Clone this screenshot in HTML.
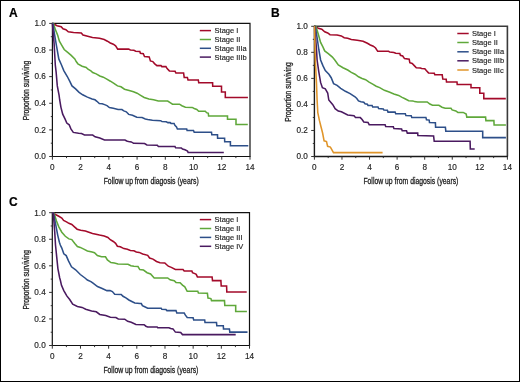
<!DOCTYPE html>
<html><head><meta charset="utf-8"><style>
html,body{margin:0;padding:0;background:#fff;}
svg{display:block;will-change:transform;}
text{font-family:"Liberation Sans",sans-serif;fill:#1e1e1e;}
.tk{font-size:8.2px;stroke:#1e1e1e;stroke-width:0.15px;}
.al{font-size:9.2px;stroke:#1e1e1e;stroke-width:0.3px;}
.lg{font-size:7.5px;stroke:#1e1e1e;stroke-width:0.15px;}
.pl{font-size:12px;font-weight:bold;fill:#000;stroke:#000;stroke-width:0.2px;}
</style></head><body>
<svg width="520" height="382" viewBox="0 0 520 382">
<rect x="0.5" y="0.5" width="519" height="381" fill="#fff" stroke="#000" stroke-width="1"/>
<text x="9.1" y="16.8" class="pl">A</text>
<text x="270.9" y="17.1" class="pl">B</text>
<text x="9.1" y="205.9" class="pl">C</text>
<path d="M52.40,23.40H250.00V156.50" fill="none" stroke="#111" stroke-width="1.2"/>
<path d="M52.40,22.80V156.50H250.60" fill="none" stroke="#111" stroke-width="1.2"/>
<path d="M52.40,156.50v3.2 M66.51,156.50v1.6 M80.63,156.50v3.2 M94.74,156.50v1.6 M108.86,156.50v3.2 M122.97,156.50v1.6 M137.09,156.50v3.2 M151.20,156.50v1.6 M165.31,156.50v3.2 M179.43,156.50v1.6 M193.54,156.50v3.2 M207.66,156.50v1.6 M221.77,156.50v3.2 M235.89,156.50v1.6 M250.00,156.50v3.2 M52.40,156.50h-3.2 M52.40,143.19h-1.6 M52.40,129.88h-3.2 M52.40,116.57h-1.6 M52.40,103.26h-3.2 M52.40,89.95h-1.6 M52.40,76.64h-3.2 M52.40,63.33h-1.6 M52.40,50.02h-3.2 M52.40,36.71h-1.6 M52.40,23.40h-3.2" stroke="#333" stroke-width="1.0" fill="none"/>
<text x="52.40" y="170.10" text-anchor="middle" class="tk">0</text>
<text x="80.63" y="170.10" text-anchor="middle" class="tk">2</text>
<text x="108.86" y="170.10" text-anchor="middle" class="tk">4</text>
<text x="137.09" y="170.10" text-anchor="middle" class="tk">6</text>
<text x="165.31" y="170.10" text-anchor="middle" class="tk">8</text>
<text x="193.54" y="170.10" text-anchor="middle" class="tk">10</text>
<text x="221.77" y="170.10" text-anchor="middle" class="tk">12</text>
<text x="250.00" y="170.10" text-anchor="middle" class="tk">14</text>
<text x="45.80" y="159.35" text-anchor="end" class="tk">0.0</text>
<text x="45.80" y="132.73" text-anchor="end" class="tk">0.2</text>
<text x="45.80" y="106.11" text-anchor="end" class="tk">0.4</text>
<text x="45.80" y="79.49" text-anchor="end" class="tk">0.6</text>
<text x="45.80" y="52.87" text-anchor="end" class="tk">0.8</text>
<text x="45.80" y="26.25" text-anchor="end" class="tk">1.0</text>
<text x="151.20" y="183.80" text-anchor="middle" class="al" textLength="95" lengthAdjust="spacingAndGlyphs">Follow up from diagosis (years)</text>
<text transform="translate(29.20,90.55) rotate(-90)" x="0" y="0" text-anchor="middle" class="al" textLength="59.6" lengthAdjust="spacingAndGlyphs">Proportion surviving</text>
<path d="M199.8,30.6H211.0" stroke="#a30a2a" stroke-width="1.5"/>
<text x="214.6" y="33.20" class="lg">Stage I</text>
<path d="M199.8,39.5H211.0" stroke="#5fa83a" stroke-width="1.5"/>
<text x="214.6" y="42.10" class="lg">Stage II</text>
<path d="M199.8,48.3H211.0" stroke="#2d4f89" stroke-width="1.5"/>
<text x="214.6" y="50.90" class="lg">Stage IIIa</text>
<path d="M199.8,57.1H211.0" stroke="#4a1a60" stroke-width="1.5"/>
<text x="214.6" y="59.70" class="lg">Stage IIIb</text>
<path d="M52.4,23.5 L52.9,23.5 L57.1,25.7 L61.2,26.8 L63.0,28.8 L65.9,29.7 L68.3,31.8 L73.6,32.4 L81.3,33.0 L83.0,35.1 L87.7,36.3 L92.5,37.5 L99.5,38.3 L104.2,39.5 L107.4,41.2 L110.3,43.0 L113.3,44.2 L115.6,45.9 L117.7,49.1 L128.6,49.1 L130.4,50.0 L133.9,50.3 L135.7,51.2 L139.8,51.5 L140.4,53.3 L143.3,53.8 L144.5,56.5 L149.2,56.9 L150.4,60.9 L152.8,61.6 L154.5,63.6 L156.9,65.6 L161.0,65.6 L161.8,66.6 L165.9,66.6 L167.1,68.6 L169.4,70.9 L175.1,71.3 L175.9,73.0 L183.6,73.0 L184.2,77.4 L187.4,77.6 L188.0,80.0 L198.3,80.0 L198.7,82.7 L212.6,82.7 L212.7,86.3 L221.5,86.3 L221.5,92.0 L225.3,92.0 L225.3,97.5 L247.9,97.5" fill="none" stroke="#a30a2a" stroke-width="1.55" stroke-linejoin="miter" stroke-linecap="butt"/>
<path d="M52.4,23.5 L53.5,23.5 L55.3,29.4 L57.7,35.3 L59.4,41.2 L61.8,45.4 L64.2,49.5 L67.7,52.4 L71.2,55.4 L74.8,58.9 L76.2,61.5 L77.9,63.8 L82.1,66.2 L86.2,67.4 L88.0,69.2 L90.9,70.9 L92.7,72.5 L96.2,73.9 L99.8,76.0 L103.3,77.2 L106.8,79.2 L110.4,81.2 L113.9,83.3 L117.5,85.9 L121.0,86.8 L124.5,89.2 L129.2,90.6 L133.5,91.8 L137.1,93.2 L140.6,95.3 L144.2,97.5 L148.9,99.1 L153.6,99.8 L158.3,101.0 L167.7,101.0 L170.1,102.6 L172.5,104.2 L179.5,104.2 L181.9,105.7 L185.4,107.2 L192.2,107.4 L194.2,108.5 L196.8,109.4 L198.7,111.2 L205.3,111.2 L206.6,112.7 L208.3,113.3 L208.6,116.0 L227.5,116.0 L227.5,119.2 L236.0,119.2 L236.0,124.5 L247.8,124.5" fill="none" stroke="#5fa83a" stroke-width="1.55" stroke-linejoin="miter" stroke-linecap="butt"/>
<path d="M52.4,23.5 L52.9,23.5 L54.7,35.3 L56.5,45.9 L58.8,58.9 L61.4,64.7 L63.8,70.6 L67.3,76.5 L69.7,81.2 L72.0,85.9 L75.6,88.9 L79.1,92.4 L82.7,94.8 L87.4,97.1 L92.1,98.9 L95.0,99.8 L96.9,101.3 L99.3,103.5 L102.2,103.7 L104.6,104.6 L107.0,105.6 L109.4,107.5 L113.3,108.3 L118.1,109.4 L121.9,109.6 L123.8,110.9 L126.3,111.8 L128.7,114.4 L132.5,115.2 L136.8,117.3 L142.1,117.6 L145.3,118.9 L147.7,119.5 L152.4,120.3 L160.7,120.7 L162.0,121.6 L166.3,121.8 L167.9,122.6 L170.2,122.6 L171.0,123.4 L174.1,123.5 L174.9,125.3 L176.5,126.9 L177.4,129.0 L186.7,129.0 L187.1,130.4 L193.5,130.4 L194.2,132.2 L211.5,132.2 L211.8,134.8 L217.5,134.8 L217.6,138.3 L224.6,138.3 L224.7,141.8 L230.4,141.8 L230.4,145.7 L248.3,145.7" fill="none" stroke="#2d4f89" stroke-width="1.55" stroke-linejoin="miter" stroke-linecap="butt"/>
<path d="M52.4,23.5 L54.1,43.6 L55.3,65.0 L56.1,71.8 L57.3,85.9 L59.1,95.4 L59.7,100.0 L60.9,107.1 L62.7,114.2 L65.0,118.9 L66.8,123.0 L69.2,124.8 L70.9,128.9 L73.3,132.4 L78.6,133.3 L81.5,133.6 L84.5,135.0 L92.7,135.1 L95.1,136.8 L99.8,138.0 L104.5,139.9 L125.0,140.0 L126.7,141.0 L128.5,141.5 L131.3,141.9 L133.6,143.3 L144.6,143.5 L146.9,145.0 L157.3,145.2 L158.4,146.5 L175.0,146.6 L175.6,147.8 L181.3,147.9 L182.5,149.1 L185.0,149.8 L187.5,151.0 L188.1,152.4 L223.8,152.4" fill="none" stroke="#4a1a60" stroke-width="1.55" stroke-linejoin="miter" stroke-linecap="butt"/>
<path d="M314.40,26.30H507.40V156.50" fill="none" stroke="#3a3a3a" stroke-width="1.6"/>
<path d="M314.40,25.70V156.50H508.00" fill="none" stroke="#1a1a1a" stroke-width="1.4"/>
<path d="M314.40,156.50v3.2 M328.19,156.50v1.6 M341.97,156.50v3.2 M355.76,156.50v1.6 M369.54,156.50v3.2 M383.33,156.50v1.6 M397.11,156.50v3.2 M410.90,156.50v1.6 M424.69,156.50v3.2 M438.47,156.50v1.6 M452.26,156.50v3.2 M466.04,156.50v1.6 M479.83,156.50v3.2 M493.61,156.50v1.6 M507.40,156.50v3.2 M314.40,156.50h-3.2 M314.40,143.48h-1.6 M314.40,130.46h-3.2 M314.40,117.44h-1.6 M314.40,104.42h-3.2 M314.40,91.40h-1.6 M314.40,78.38h-3.2 M314.40,65.36h-1.6 M314.40,52.34h-3.2 M314.40,39.32h-1.6 M314.40,26.30h-3.2" stroke="#333" stroke-width="1.0" fill="none"/>
<text x="314.40" y="170.10" text-anchor="middle" class="tk">0</text>
<text x="341.97" y="170.10" text-anchor="middle" class="tk">2</text>
<text x="369.54" y="170.10" text-anchor="middle" class="tk">4</text>
<text x="397.11" y="170.10" text-anchor="middle" class="tk">6</text>
<text x="424.69" y="170.10" text-anchor="middle" class="tk">8</text>
<text x="452.26" y="170.10" text-anchor="middle" class="tk">10</text>
<text x="479.83" y="170.10" text-anchor="middle" class="tk">12</text>
<text x="507.40" y="170.10" text-anchor="middle" class="tk">14</text>
<text x="307.80" y="159.35" text-anchor="end" class="tk">0.0</text>
<text x="307.80" y="133.31" text-anchor="end" class="tk">0.2</text>
<text x="307.80" y="107.27" text-anchor="end" class="tk">0.4</text>
<text x="307.80" y="81.23" text-anchor="end" class="tk">0.6</text>
<text x="307.80" y="55.19" text-anchor="end" class="tk">0.8</text>
<text x="307.80" y="29.15" text-anchor="end" class="tk">1.0</text>
<text x="410.90" y="183.80" text-anchor="middle" class="al" textLength="95" lengthAdjust="spacingAndGlyphs">Follow up from diagosis (years)</text>
<text transform="translate(290.60,92.00) rotate(-90)" x="0" y="0" text-anchor="middle" class="al" textLength="59.6" lengthAdjust="spacingAndGlyphs">Proportion surviving</text>
<path d="M457.3,33.5H468.7" stroke="#a30a2a" stroke-width="1.5"/>
<text x="472.0" y="36.10" class="lg">Stage I</text>
<path d="M457.3,42.5H468.7" stroke="#5fa83a" stroke-width="1.5"/>
<text x="472.0" y="45.10" class="lg">Stage II</text>
<path d="M457.3,51.8H468.7" stroke="#2d4f89" stroke-width="1.5"/>
<text x="472.0" y="54.40" class="lg">Stage IIIa</text>
<path d="M457.3,60.8H468.7" stroke="#4a1a60" stroke-width="1.5"/>
<text x="472.0" y="63.40" class="lg">Stage IIIb</text>
<path d="M457.3,70.0H468.7" stroke="#e0952a" stroke-width="1.5"/>
<text x="472.0" y="72.60" class="lg">Stage IIIc</text>
<path d="M314.3,26.1 L315.3,26.5 L318.3,28.3 L321.8,29.2 L324.7,31.8 L327.7,33.0 L330.0,34.7 L337.1,35.1 L341.3,35.9 L344.2,37.7 L347.7,38.3 L351.3,39.5 L357.2,40.3 L363.1,41.2 L367.4,43.3 L370.3,45.0 L373.3,46.2 L375.6,48.0 L377.7,51.3 L388.6,51.3 L389.8,52.1 L393.9,52.5 L395.7,53.3 L399.8,53.5 L400.4,55.3 L402.7,56.0 L404.5,58.6 L409.2,59.2 L409.8,62.7 L412.2,63.5 L414.5,65.9 L416.3,67.8 L420.4,68.0 L421.6,68.5 L424.8,68.7 L426.3,70.6 L428.5,72.9 L434.3,73.2 L434.8,74.8 L442.2,74.8 L442.8,79.0 L446.2,79.3 L446.5,82.0 L457.0,82.0 L457.2,84.4 L471.0,84.4 L471.0,87.8 L479.8,87.8 L479.8,93.3 L483.8,93.3 L483.8,98.6 L505.8,98.6" fill="none" stroke="#a30a2a" stroke-width="1.55" stroke-linejoin="miter" stroke-linecap="butt"/>
<path d="M314.3,26.1 L315.9,26.5 L318.3,34.2 L320.6,42.4 L323.0,47.1 L324.7,50.9 L328.3,53.6 L332.4,57.1 L334.8,60.0 L338.3,65.0 L343.0,67.7 L347.7,70.0 L351.3,72.4 L355.0,74.2 L358.5,76.8 L362.1,78.5 L365.6,79.7 L369.1,82.1 L372.7,84.1 L376.2,86.2 L379.7,87.6 L384.4,90.3 L389.2,92.1 L393.9,93.9 L398.6,95.4 L402.1,97.4 L405.0,98.8 L408.7,100.7 L412.9,100.9 L414.5,101.6 L417.7,101.9 L427.2,101.9 L429.9,104.0 L432.5,105.3 L438.9,105.3 L442.0,107.2 L445.2,108.3 L451.0,108.3 L452.1,109.9 L455.8,110.9 L457.9,112.4 L463.2,112.4 L466.2,114.1 L466.8,117.1 L485.6,117.1 L485.9,120.6 L493.9,120.6 L494.1,125.0 L505.9,125.0" fill="none" stroke="#5fa83a" stroke-width="1.55" stroke-linejoin="miter" stroke-linecap="butt"/>
<path d="M314.3,26.1 L315.3,26.5 L317.1,37.7 L318.8,49.5 L320.6,60.0 L323.0,65.9 L325.3,70.6 L328.9,74.2 L331.2,77.7 L333.6,83.6 L337.1,85.4 L340.7,88.3 L345.4,91.3 L350.1,93.6 L355.0,96.8 L356.8,98.5 L358.5,100.9 L360.9,101.8 L363.8,102.3 L365.0,103.8 L367.4,104.2 L368.0,105.4 L372.1,105.4 L372.7,107.0 L378.0,107.0 L378.6,108.6 L383.3,108.9 L383.9,110.1 L387.4,110.3 L388.0,112.1 L395.1,112.1 L395.7,113.7 L405.3,113.8 L405.9,115.6 L411.2,115.8 L411.8,117.4 L425.9,117.4 L426.5,119.7 L429.2,120.1 L429.5,122.5 L435.4,122.7 L435.6,127.2 L445.4,127.2 L445.8,131.2 L482.7,131.2 L482.7,137.6 L505.9,137.6" fill="none" stroke="#2d4f89" stroke-width="1.55" stroke-linejoin="miter" stroke-linecap="butt"/>
<path d="M314.3,26.1 L314.7,26.5 L316.5,49.5 L317.1,60.0 L318.8,71.8 L320.6,82.4 L322.4,87.7 L325.3,88.9 L327.7,93.0 L328.8,100.0 L332.8,104.7 L335.1,108.6 L338.3,111.0 L341.4,111.8 L347.7,114.9 L354.0,115.7 L355.5,117.4 L360.3,117.6 L362.1,119.5 L363.8,121.9 L368.0,122.4 L369.2,124.7 L385.1,124.7 L385.7,126.6 L393.3,126.8 L393.9,128.6 L401.6,129.0 L402.2,130.7 L406.5,130.7 L407.3,133.1 L417.7,133.1 L417.9,135.6 L433.6,135.9 L434.2,141.3 L470.1,141.3 L470.3,148.9 L474.7,148.9" fill="none" stroke="#4a1a60" stroke-width="1.55" stroke-linejoin="miter" stroke-linecap="butt"/>
<path d="M314.3,26.1 L314.5,26.5 L315.3,60.0 L316.5,83.6 L317.1,100.0 L317.8,112.6 L319.4,120.4 L321.0,126.7 L322.6,133.0 L324.1,140.8 L326.5,141.6 L327.6,146.3 L330.4,147.1 L333.5,152.6 L382.6,152.6" fill="none" stroke="#e0952a" stroke-width="1.55" stroke-linejoin="miter" stroke-linecap="butt"/>
<path d="M52.30,212.70H249.50V345.50" fill="none" stroke="#111" stroke-width="1.2"/>
<path d="M52.30,212.10V345.50H250.10" fill="none" stroke="#111" stroke-width="1.2"/>
<path d="M52.30,345.50v3.2 M66.39,345.50v1.6 M80.47,345.50v3.2 M94.56,345.50v1.6 M108.64,345.50v3.2 M122.73,345.50v1.6 M136.81,345.50v3.2 M150.90,345.50v1.6 M164.99,345.50v3.2 M179.07,345.50v1.6 M193.16,345.50v3.2 M207.24,345.50v1.6 M221.33,345.50v3.2 M235.41,345.50v1.6 M249.50,345.50v3.2 M52.30,345.50h-3.2 M52.30,332.22h-1.6 M52.30,318.94h-3.2 M52.30,305.66h-1.6 M52.30,292.38h-3.2 M52.30,279.10h-1.6 M52.30,265.82h-3.2 M52.30,252.54h-1.6 M52.30,239.26h-3.2 M52.30,225.98h-1.6 M52.30,212.70h-3.2" stroke="#333" stroke-width="1.0" fill="none"/>
<text x="52.30" y="359.10" text-anchor="middle" class="tk">0</text>
<text x="80.47" y="359.10" text-anchor="middle" class="tk">2</text>
<text x="108.64" y="359.10" text-anchor="middle" class="tk">4</text>
<text x="136.81" y="359.10" text-anchor="middle" class="tk">6</text>
<text x="164.99" y="359.10" text-anchor="middle" class="tk">8</text>
<text x="193.16" y="359.10" text-anchor="middle" class="tk">10</text>
<text x="221.33" y="359.10" text-anchor="middle" class="tk">12</text>
<text x="249.50" y="359.10" text-anchor="middle" class="tk">14</text>
<text x="45.70" y="348.35" text-anchor="end" class="tk">0.0</text>
<text x="45.70" y="321.79" text-anchor="end" class="tk">0.2</text>
<text x="45.70" y="295.23" text-anchor="end" class="tk">0.4</text>
<text x="45.70" y="268.67" text-anchor="end" class="tk">0.6</text>
<text x="45.70" y="242.11" text-anchor="end" class="tk">0.8</text>
<text x="45.70" y="215.55" text-anchor="end" class="tk">1.0</text>
<text x="150.90" y="372.80" text-anchor="middle" class="al" textLength="95" lengthAdjust="spacingAndGlyphs">Follow up from diagosis (years)</text>
<text transform="translate(29.10,279.70) rotate(-90)" x="0" y="0" text-anchor="middle" class="al" textLength="59.6" lengthAdjust="spacingAndGlyphs">Proportion surviving</text>
<path d="M199.8,219.6H211.2" stroke="#a30a2a" stroke-width="1.5"/>
<text x="214.6" y="222.20" class="lg">Stage I</text>
<path d="M199.8,228.5H211.2" stroke="#5fa83a" stroke-width="1.5"/>
<text x="214.6" y="231.10" class="lg">Stage II</text>
<path d="M199.8,237.4H211.2" stroke="#2d4f89" stroke-width="1.5"/>
<text x="214.6" y="240.00" class="lg">Stage III</text>
<path d="M199.8,246.3H211.2" stroke="#4a1a60" stroke-width="1.5"/>
<text x="214.6" y="248.90" class="lg">Stage IV</text>
<path d="M52.3,212.7 L53.5,213.0 L55.9,214.8 L58.8,216.3 L61.8,218.0 L63.6,220.4 L66.5,221.9 L68.9,223.3 L71.8,224.5 L74.2,226.6 L77.1,229.2 L80.7,230.2 L85.4,231.0 L88.9,232.2 L92.5,233.4 L96.0,234.2 L99.5,235.1 L104.2,236.1 L107.9,237.4 L110.3,239.7 L113.3,241.5 L115.6,243.3 L117.4,246.2 L120.3,246.8 L123.9,248.6 L127.4,249.2 L130.4,250.4 L133.9,250.7 L136.3,251.9 L139.2,252.4 L142.7,253.9 L147.7,255.3 L149.6,258.0 L153.0,259.1 L156.5,261.5 L160.0,262.7 L164.8,263.0 L168.3,266.2 L171.3,267.4 L175.4,269.4 L183.0,269.4 L184.2,270.9 L191.9,270.9 L192.5,272.7 L195.4,273.9 L196.2,274.4 L197.4,276.9 L212.1,276.9 L212.5,280.6 L220.9,280.6 L221.2,286.0 L226.6,286.0 L226.8,291.9 L246.7,291.9" fill="none" stroke="#a30a2a" stroke-width="1.55" stroke-linejoin="miter" stroke-linecap="butt"/>
<path d="M52.3,212.7 L54.1,213.3 L56.5,221.0 L58.8,226.9 L61.8,232.2 L65.3,236.3 L68.9,238.9 L71.8,239.6 L74.8,243.4 L77.4,246.5 L80.3,247.4 L83.8,249.1 L87.4,250.9 L92.1,252.1 L94.5,252.7 L97.4,255.6 L101.5,256.8 L105.5,256.8 L107.4,259.9 L110.9,262.5 L114.4,263.0 L118.0,263.9 L128.0,264.2 L130.9,265.7 L133.9,266.3 L138.0,266.5 L139.8,269.6 L143.5,270.1 L147.1,272.7 L150.6,273.9 L154.2,278.0 L167.7,278.0 L170.1,279.8 L174.2,280.7 L176.0,282.4 L180.1,282.7 L182.5,285.1 L184.8,286.8 L187.2,291.3 L197.8,291.3 L198.4,292.9 L207.4,293.3 L208.0,298.0 L210.9,298.6 L211.5,300.6 L224.5,300.6 L224.8,305.5 L235.7,305.5 L235.7,311.4 L246.9,311.4" fill="none" stroke="#5fa83a" stroke-width="1.55" stroke-linejoin="miter" stroke-linecap="butt"/>
<path d="M52.3,212.7 L53.5,213.3 L55.9,225.7 L57.7,235.1 L59.4,242.2 L60.3,245.0 L61.8,248.1 L63.8,253.8 L66.2,255.6 L68.5,260.9 L71.5,266.8 L75.6,269.8 L80.3,274.5 L85.0,278.0 L87.4,280.0 L90.9,281.6 L92.7,282.9 L97.5,286.5 L102.2,288.5 L106.9,290.6 L110.0,290.6 L112.4,291.6 L114.7,294.2 L121.2,294.4 L123.0,296.3 L125.9,297.9 L128.9,300.0 L131.8,301.5 L134.8,303.0 L140.0,303.5 L141.3,303.6 L142.4,305.7 L144.7,306.8 L147.7,308.2 L161.2,308.2 L161.8,309.3 L165.9,309.4 L166.9,310.6 L176.0,310.6 L176.8,313.0 L184.2,313.0 L185.4,315.1 L187.2,317.5 L193.1,317.7 L193.7,320.0 L204.7,320.0 L205.0,322.4 L216.5,322.4 L216.8,325.7 L223.3,325.7 L223.5,328.9 L229.4,328.9 L229.8,332.1 L247.5,332.1" fill="none" stroke="#2d4f89" stroke-width="1.55" stroke-linejoin="miter" stroke-linecap="butt"/>
<path d="M52.3,212.7 L53.3,213.3 L54.7,231.6 L55.5,245.0 L56.7,256.8 L57.9,268.6 L59.7,278.0 L60.3,280.0 L61.5,285.3 L63.8,290.6 L66.8,295.9 L69.7,299.5 L72.7,304.2 L77.4,306.5 L82.1,307.4 L85.7,309.2 L91.6,310.9 L96.3,311.8 L99.8,314.4 L105.7,315.6 L110.4,317.3 L115.9,317.5 L118.3,318.9 L124.7,319.2 L127.7,321.3 L131.2,322.2 L135.9,324.4 L144.1,324.7 L145.9,326.2 L147.7,326.9 L157.1,326.9 L157.7,327.7 L168.9,327.7 L170.7,328.5 L173.0,328.9 L175.4,332.1 L180.7,332.4 L182.5,334.6 L235.7,334.6" fill="none" stroke="#4a1a60" stroke-width="1.55" stroke-linejoin="miter" stroke-linecap="butt"/>
</svg>
</body></html>
